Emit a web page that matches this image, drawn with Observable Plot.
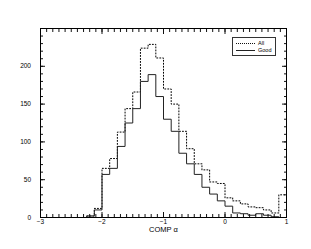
<!DOCTYPE html>
<html>
<head>
<meta charset="utf-8">
<script src="https://cdn.jsdelivr.net/npm/d3@7"></script>
<script src="https://cdn.jsdelivr.net/npm/@observablehq/plot@0.6"></script>
<style>
  html, body { margin: 0; padding: 0; background: #fff; }
  #wrap { position: relative; width: 311px; height: 249px; font-family: "Liberation Sans", Arial, sans-serif; }
  #legend { position: absolute; left: 232px; top: 37px; width: 42px; height: 17px; border: 1px solid #333; background: #fff; font-size: 5.5px; color: #000; }
  .row { position: absolute; left: 2px; height: 7px; width: 40px; }
  .row .sample { position: absolute; left: 1px; top: 3px; width: 19px; height: 0; }
  .row .lab { position: absolute; left: 23px; top: 0; line-height: 7px; }
</style>
</head>
<body>
<div id="wrap">
  <div id="chart"></div>
  <div id="legend">
    <div class="row" style="top:2px"><span class="sample" style="border-top:1px dotted #111"></span><span class="lab">All</span></div>
    <div class="row" style="top:9px"><span class="sample" style="border-top:1px solid #222"></span><span class="lab">Good</span></div>
  </div>
</div>
<script>
// Bin edges (33 edges -> 32 bins), COMP alpha
const binEdges = [-3, -2.875, -2.75, -2.625, -2.5, -2.375, -2.25, -2.125,
  -2, -1.875, -1.75, -1.625, -1.5, -1.375, -1.25, -1.125,
  -1, -0.875, -0.75, -0.625, -0.5, -0.375, -0.25, -0.125,
  0, 0.125, 0.25, 0.375, 0.5, 0.625, 0.75, 0.875, 1];

// Counts per bin
const allCounts = [0, 0, 0, 0, 0, 0, 2, 12,
  65, 78, 113, 144, 166, 224, 229, 211,
  170, 150, 114, 91, 71, 63, 47, 45,
  26, 22, 18, 14, 13, 10, 6, 30];
const goodCounts = [0, 0, 0, 0, 0, 0, 2, 10,
  57, 65, 94, 125, 144, 180, 189, 160,
  130, 114, 85, 71, 57, 40, 31, 22,
  15, 6, 5, 3, 5, 3, 1, 0];

const xTicks = [-3, -2, -1, 0, 1];
const yTicks = [0, 50, 100, 150, 200];
const xTitle = "COMP α";

function steps(counts) {
  return binEdges.map((e, i) => ({x: e, y: counts[Math.min(i, counts.length - 1)]}));
}

const blank = () => "";

const plot = Plot.plot({
  width: 311,
  height: 249,
  marginLeft: 40,
  marginTop: 28,
  marginRight: 25,
  marginBottom: 32,
  style: {fontFamily: "'Liberation Sans', Arial, sans-serif", fontSize: "6.5px", color: "#000", background: "#fff"},
  x: {domain: [-3, 1]},
  y: {domain: [0, 250]},
  marks: [
    Plot.line(steps(allCounts), {x: "x", y: "y", curve: "step-after", stroke: "#000", strokeWidth: 1, strokeDasharray: "1,2"}),
    Plot.line(steps(goodCounts), {x: "x", y: "y", curve: "step-after", stroke: "#222", strokeWidth: 1}),
    // minor ticks
    Plot.axisX({anchor: "bottom", ticks: 40, tickSize: -3, tickFormat: blank, label: null, stroke: "#111"}),
    Plot.axisX({anchor: "top", ticks: 40, tickSize: -3, tickFormat: blank, label: null, stroke: "#111"}),
    Plot.axisY({anchor: "left", ticks: 25, tickSize: -3, tickFormat: blank, label: null, stroke: "#111"}),
    Plot.axisY({anchor: "right", ticks: 25, tickSize: -3, tickFormat: blank, label: null, stroke: "#111"}),
    // major ticks
    Plot.axisX(xTicks, {anchor: "bottom", tickSize: -5, tickPadding: 6.5, label: null, stroke: "#111", fill: "#000"}),
    Plot.axisX(xTicks, {anchor: "top", tickSize: -5, tickFormat: blank, label: null, stroke: "#111"}),
    Plot.axisY(yTicks, {anchor: "left", tickSize: -5, tickPadding: 14.5, label: null, stroke: "#111", fill: "#000"}),
    Plot.axisY(yTicks, {anchor: "right", tickSize: -5, tickFormat: blank, label: null, stroke: "#111"}),
    Plot.frame({stroke: "#000"}),
    Plot.text([xTitle], {frameAnchor: "bottom", dy: 14.5, text: d => d, fontSize: 7.5, fill: "#000"})
  ]
});
document.getElementById("chart").appendChild(plot);
</script>
</body>
</html>
